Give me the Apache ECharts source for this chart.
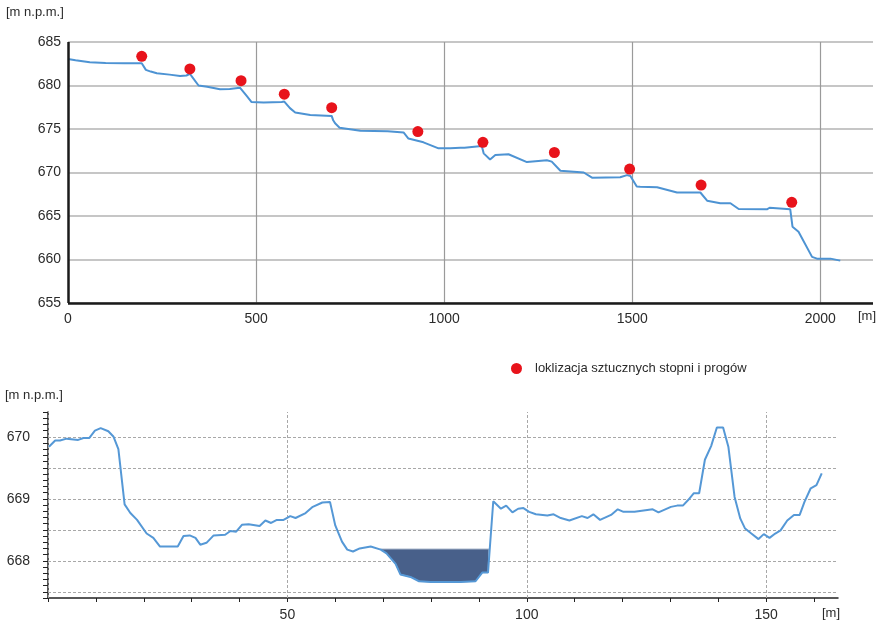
<!DOCTYPE html>
<html><head><meta charset="utf-8">
<script src="https://cdn.jsdelivr.net/npm/echarts@6/dist/echarts.min.js"></script>
<style>html,body{margin:0;padding:0;background:#fff}#c{width:878px;height:625px}</style>
</head><body><div id="c"></div>
<script>
// ---- top chart: longitudinal profile ----
const topX = [0, 20, 58, 100, 150, 196, 200, 207, 220, 236, 270, 298, 315, 324, 330, 347, 370, 404, 430, 457, 462, 475, 488, 520, 568, 575, 590, 604, 644, 701, 705, 710, 722, 777, 850, 892, 905, 945, 985, 1016, 1043, 1047, 1054, 1100, 1105, 1122, 1136, 1171, 1220, 1273, 1286, 1309, 1371, 1393, 1468, 1486, 1495, 1512, 1521, 1566, 1619, 1681, 1699, 1734, 1761, 1783, 1858, 1865, 1920, 1922, 1926, 1942, 1978, 1991, 2027, 2053];
const topY = [683.05, 682.9, 682.67, 682.6, 682.55, 682.55, 682.35, 681.8, 681.6, 681.4, 681.25, 681.1, 681.15, 681.35, 681.0, 680.0, 679.85, 679.56, 679.6, 679.75, 679.7, 678.8, 678.1, 678.05, 678.1, 678.15, 677.4, 676.9, 676.6, 676.5, 676.0, 675.65, 675.15, 674.8, 674.75, 674.6, 673.9, 673.47, 672.78, 672.8, 672.85, 673.05, 672.85, 673.05, 672.2, 671.5, 672.0, 672.1, 671.2, 671.4, 671.25, 670.2, 670.0, 669.4, 669.45, 669.7, 669.6, 668.4, 668.37, 668.3, 667.7, 667.7, 666.76, 666.46, 666.46, 665.8, 665.77, 665.95, 665.77, 665.77, 663.77, 663.2, 660.3, 660.1, 660.1, 659.87];
const stepX = [196, 324, 460, 575, 701, 930, 1103, 1293, 1493, 1683, 1924];
const stepY = [683.35, 681.9, 680.55, 679.0, 677.45, 674.7, 673.47, 672.3, 670.4, 668.56, 666.57];
const topXTicks = [0, 500, 1000, 1500, 2000];
const topYTicks = [655, 660, 665, 670, 675, 680, 685];

// ---- bottom chart: cross-section ----
const botX = [0.2, 1.5, 2.5, 3.9, 6.3, 7.4, 8.6, 9.8, 11, 12.6, 13.7, 14.7, 16, 17.2, 18.6, 20.6, 22, 23.4, 27.1, 28.3, 29.6, 30.8, 31.8, 33.1, 34.6, 37, 38.1, 39.3, 40.5, 41.9, 44.2, 45.4, 46.6, 47.8, 49.2, 50.6, 51.7, 53.8, 55.3, 57.3, 58.9, 60, 61.4, 62.5, 63.7, 65.1, 67.4, 69.5, 70.7, 72.6, 73.6, 75.7, 77.5, 79.9, 83.4, 86.2, 89.3, 90.7, 91.9, 93, 94.6, 95.7, 97, 98.2, 99.3, 100.5, 101.9, 104.3, 105.6, 107.1, 108.9, 111.5, 112.7, 113.9, 115.3, 117.6, 119, 120.2, 122.5, 126.3, 127.5, 130.1, 131.4, 132.6, 133.7, 134.9, 136, 137.2, 138.5, 139.7, 141, 142.1, 143.4, 144.6, 145.6, 146.9, 148.4, 149.5, 150.7, 151.9, 153, 154.4, 155.8, 157, 158, 159.3, 160.5, 161.6];
const botY = [669.84, 669.94, 669.94, 669.97, 669.95, 669.98, 669.98, 670.1, 670.14, 670.09, 670.0, 669.8, 668.91, 668.77, 668.66, 668.44, 668.37, 668.23, 668.23, 668.4, 668.41, 668.37, 668.26, 668.29, 668.41, 668.42, 668.48, 668.47, 668.58, 668.59, 668.56, 668.65, 668.61, 668.66, 668.66, 668.72, 668.69, 668.77, 668.87, 668.94, 668.95, 668.57, 668.31, 668.18, 668.15, 668.2, 668.23, 668.18, 668.12, 667.95, 667.78, 667.74, 667.67, 667.66, 667.66, 667.66, 667.67, 667.81, 667.81, 668.96, 668.84, 668.89, 668.78, 668.84, 668.85, 668.79, 668.75, 668.73, 668.75, 668.69, 668.65, 668.72, 668.69, 668.75, 668.66, 668.74, 668.83, 668.79, 668.79, 668.83, 668.78, 668.87, 668.89, 668.89, 668.98, 669.09, 669.09, 669.63, 669.85, 670.15, 670.15, 669.84, 669.03, 668.68, 668.52, 668.44, 668.35, 668.43, 668.37, 668.44, 668.49, 668.65, 668.74, 668.74, 668.95, 669.17, 669.22, 669.41];
const waterLevel = 668.19;
const waterFrom = 69.4;
const waterTo = 92.1;
const botXLabels = [50, 100, 150];
const botXGrid = [0, 50, 100, 150];
const botYLabels = [668, 669, 670];
const botYGrid = [667.5, 668, 668.5, 669, 669.5, 670];
const legendName = 'loklizacja sztucznych stopni i progów';

const FONT = "'Liberation Sans', Arial, sans-serif";
const TXT = '#2b2b2b';
const zip = (a, b) => a.map((v, i) => [v, b[i]]);
const botXTicks = []; for (let v = 0; v <= 160; v += 10) botXTicks.push(v);
const plain = v => String(Math.round(v * 100) / 100);

const chart = echarts.init(document.getElementById('c'), null, {renderer: 'canvas'});
chart.setOption({
  animation: false,
  backgroundColor: '#fff',
  textStyle: {fontFamily: FONT},
  legend: {
    data: [legendName], left: 506, top: 357, icon: 'circle', itemWidth: 11, itemHeight: 11, itemGap: 10,
    textStyle: {fontSize: 13, color: TXT, fontFamily: FONT, padding: [0, 0, 0, 8]}
  },
  grid: [
    {left: 68, top: 42, width: 805, height: 261},
    {left: 48, top: 412, width: 790, height: 186}
  ],
  xAxis: [
    {type: 'value', gridIndex: 0, min: 0, max: 2140, interval: 500,
     axisLine: {show: false}, axisTick: {show: false}, splitLine: {show: false},
     axisLabel: {customValues: topXTicks, formatter: plain, fontSize: 14, color: TXT, margin: 9, fontFamily: FONT}},
    {type: 'value', gridIndex: 1, min: 0, max: 165, interval: 10,
     axisLine: {show: true, onZero: false, lineStyle: {color: '#222', width: 1.5}},
     axisTick: {show: true, customValues: botXTicks, length: 4, lineStyle: {color: '#222', width: 1}},
     splitLine: {show: false},
     axisLabel: {customValues: botXLabels, formatter: plain, fontSize: 14, color: TXT, margin: 10, fontFamily: FONT}}
  ],
  yAxis: [
    {type: 'value', gridIndex: 0, min: 655, max: 685, interval: 5,
     axisLine: {show: false}, axisTick: {show: false},
     splitLine: {show: true, lineStyle: {color: '#b3b3b3', width: 1.5}},
     axisLabel: {customValues: topYTicks, formatter: plain, fontSize: 14, color: TXT, margin: 7, fontFamily: FONT}},
    {type: 'value', gridIndex: 1, min: 667.4, max: 670.4, interval: 0.1,
     axisLine: {show: true, onZero: false, lineStyle: {color: '#222', width: 1.5}},
     axisTick: {show: true, length: 5, lineStyle: {color: '#222', width: 1}},
     splitLine: {show: false},
     axisLabel: {customValues: botYLabels, formatter: plain, fontSize: 14, color: TXT, margin: 18, fontFamily: FONT}}
  ],
  graphic: [
    {type: 'text', left: 6, top: 6, style: {text: '[m n.p.m.]', font: '13px ' + FONT, fill: TXT}},
    {type: 'text', left: 858, top: 310, style: {text: '[m]', font: '13px ' + FONT, fill: TXT}},
    {type: 'text', left: 5, top: 389, style: {text: '[m n.p.m.]', font: '13px ' + FONT, fill: TXT}},
    {type: 'text', left: 822, top: 607, style: {text: '[m]', font: '13px ' + FONT, fill: TXT}}
  ],
  series: [
    {type: 'line', xAxisIndex: 0, yAxisIndex: 0, data: [], silent: true,
     markLine: {z: 1, silent: true, symbol: 'none', label: {show: false}, animation: false,
       lineStyle: {color: '#9a9a9a', width: 1.2, type: 'solid'},
       data: topXTicks.slice(1).map(v => ({xAxis: v}))}},
    {type: 'line', xAxisIndex: 0, yAxisIndex: 0, data: [], silent: true,
     markLine: {z: 3, silent: true, symbol: 'none', label: {show: false}, animation: false,
       lineStyle: {color: '#1a1a1a', width: 2.5, type: 'solid'},
       data: [{xAxis: 0}, {yAxis: 655}]}},
    {type: 'line', name: 'profil', xAxisIndex: 0, yAxisIndex: 0, z: 2,
     data: zip(topX, topY), showSymbol: false, symbol: 'none',
     lineStyle: {color: '#4d93d3', width: 2}},
    {type: 'scatter', name: legendName, xAxisIndex: 0, yAxisIndex: 0, z: 4,
     data: zip(stepX, stepY), symbolSize: 11, itemStyle: {color: '#e8131b', opacity: 1}},
    {type: 'line', xAxisIndex: 1, yAxisIndex: 1, data: [], silent: true,
     markLine: {z: 1, silent: true, symbol: 'none', label: {show: false}, animation: false,
       lineStyle: {color: '#a8a8a8', width: 1, type: [3, 2]},
       data: botYGrid.map(v => ({yAxis: v})).concat(botXGrid.map(v => ({xAxis: v})))}},
    {type: 'custom', xAxisIndex: 1, yAxisIndex: 1, z: 2, silent: true,
     data: [[waterFrom, waterLevel]],
     renderItem: function (params, api) {
       const pts = [api.coord([waterFrom, waterLevel])];
       for (let i = 0; i < botX.length; i++) {
         if (botX[i] > waterFrom && botX[i] < waterTo) pts.push(api.coord([botX[i], botY[i]]));
       }
       pts.push(api.coord([waterTo, waterLevel]));
       return {type: 'polygon', shape: {points: pts}, style: {fill: '#48608a', stroke: '#a8b6cc', lineWidth: 1}};
     }},
    {type: 'line', name: 'przekroj', xAxisIndex: 1, yAxisIndex: 1, z: 3,
     data: zip(botX, botY), showSymbol: false, symbol: 'none',
     lineStyle: {color: '#5598d6', width: 2}}
  ]
});
</script></body></html>
